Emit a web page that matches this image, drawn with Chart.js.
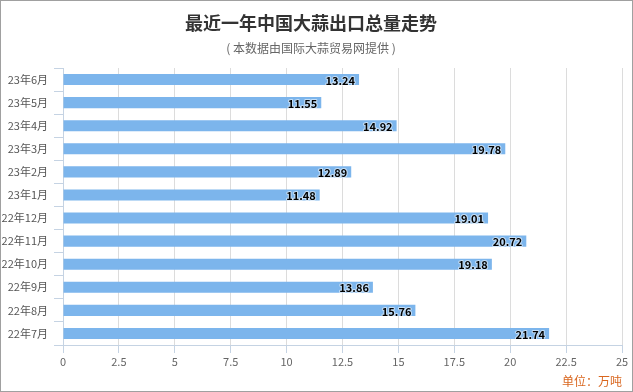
<!DOCTYPE html>
<html>
<head>
<meta charset="utf-8">
<script src="https://cdn.jsdelivr.net/npm/chart.js@4/dist/chart.umd.min.js"></script>
<style>
html,body{margin:0;padding:0;background:#fff;}
#wrap{width:633px;height:392px;position:relative;}
</style>
</head>
<body>
<div id="wrap"><canvas id="c"></canvas></div>
<script>
const months = ["23年6月","23年5月","23年4月","23年3月","23年2月","23年1月","22年12月","22年11月","22年10月","22年9月","22年8月","22年7月"];
const exports = [13.24,11.55,14.92,19.78,12.89,11.48,19.01,20.72,19.18,13.86,15.76,21.74];
const titleText = "最近一年中国大蒜出口总量走势";
const subtitleText = "( 本数据由国际大蒜贸易网提供 )";
const unitText = "单位：万吨";

const font = "'Noto Sans CJK SC','Noto Sans',sans-serif";

/* 边框 + 单位 */
const frame = {
id:"frame",
beforeDraw(chart){
const c = chart.ctx;
c.save();
c.fillStyle="#fff";
c.fillRect(0,0,chart.width,chart.height);
c.restore();
},
afterDraw(chart){
const c = chart.ctx;
c.save();
c.strokeStyle="#a0a0a0";
c.lineWidth=1;
c.strokeRect(0.5,0.5,chart.width-1,chart.height-1);
c.font="12px "+font;
c.fillStyle="#d9661e";
c.textAlign="right";
c.textBaseline="middle";
c.fillText(unitText,chart.width-11,381);
c.restore();
}
};

/* 数值标签 */
const valueLabels = {
id:"valueLabels",
afterDatasetsDraw(chart){
const c = chart.ctx;
const meta = chart.getDatasetMeta(0);
c.save();
c.font="bold 11px "+font;
c.textAlign="right";
c.textBaseline="middle";
c.lineJoin="round";
meta.data.forEach((bar,i)=>{
const txt = exports[i].toFixed(2);
c.strokeStyle="rgba(255,255,255,0.55)";
c.lineWidth=2;
c.strokeText(txt,bar.x-4,bar.y+1);
c.fillStyle="#000";
c.fillText(txt,bar.x-4,bar.y+1);
});
c.restore();
}
};

new Chart(document.getElementById("c"),{
type:"bar",
data:{
labels:months,
datasets:[{
label:"出口总量",
data:exports,
backgroundColor:"#7cb5ec",
categoryPercentage:1,
barPercentage:0.48
}]
},
options:{
indexAxis:"y",
responsive:true,
maintainAspectRatio:false,
animation:false,
layout:{padding:{left:0,right:11,top:0,bottom:0}},
plugins:{
legend:{display:false},
tooltip:{enabled:false},
title:{
display:true,
text:titleText,
color:"#333",
font:{family:font,size:18,weight:"bold"},
padding:{top:12,bottom:8}
},
subtitle:{
display:true,
text:subtitleText,
color:"#666",
font:{family:font,size:12},
padding:{top:0,bottom:12}
}
},
scales:{
x:{
min:0,
max:25,
afterFit(s){ s.height=47; },
ticks:{stepSize:2.5,color:"#666",font:{family:font,size:11},padding:2,maxRotation:0},
grid:{color:"#dcdcdc",tickColor:"#c5d3e3",tickLength:8},
border:{color:"#c5d3e3"}
},
y:{
afterFit(s){ s.width=63; },
ticks:{color:"#555",font:{family:font,size:11},padding:6},
grid:{drawOnChartArea:false,offset:true,tickColor:"#c5d3e3",tickLength:9},
border:{color:"#c5d3e3"}
}
}
},
plugins:[frame,valueLabels]
});
</script>
</body>
</html>
